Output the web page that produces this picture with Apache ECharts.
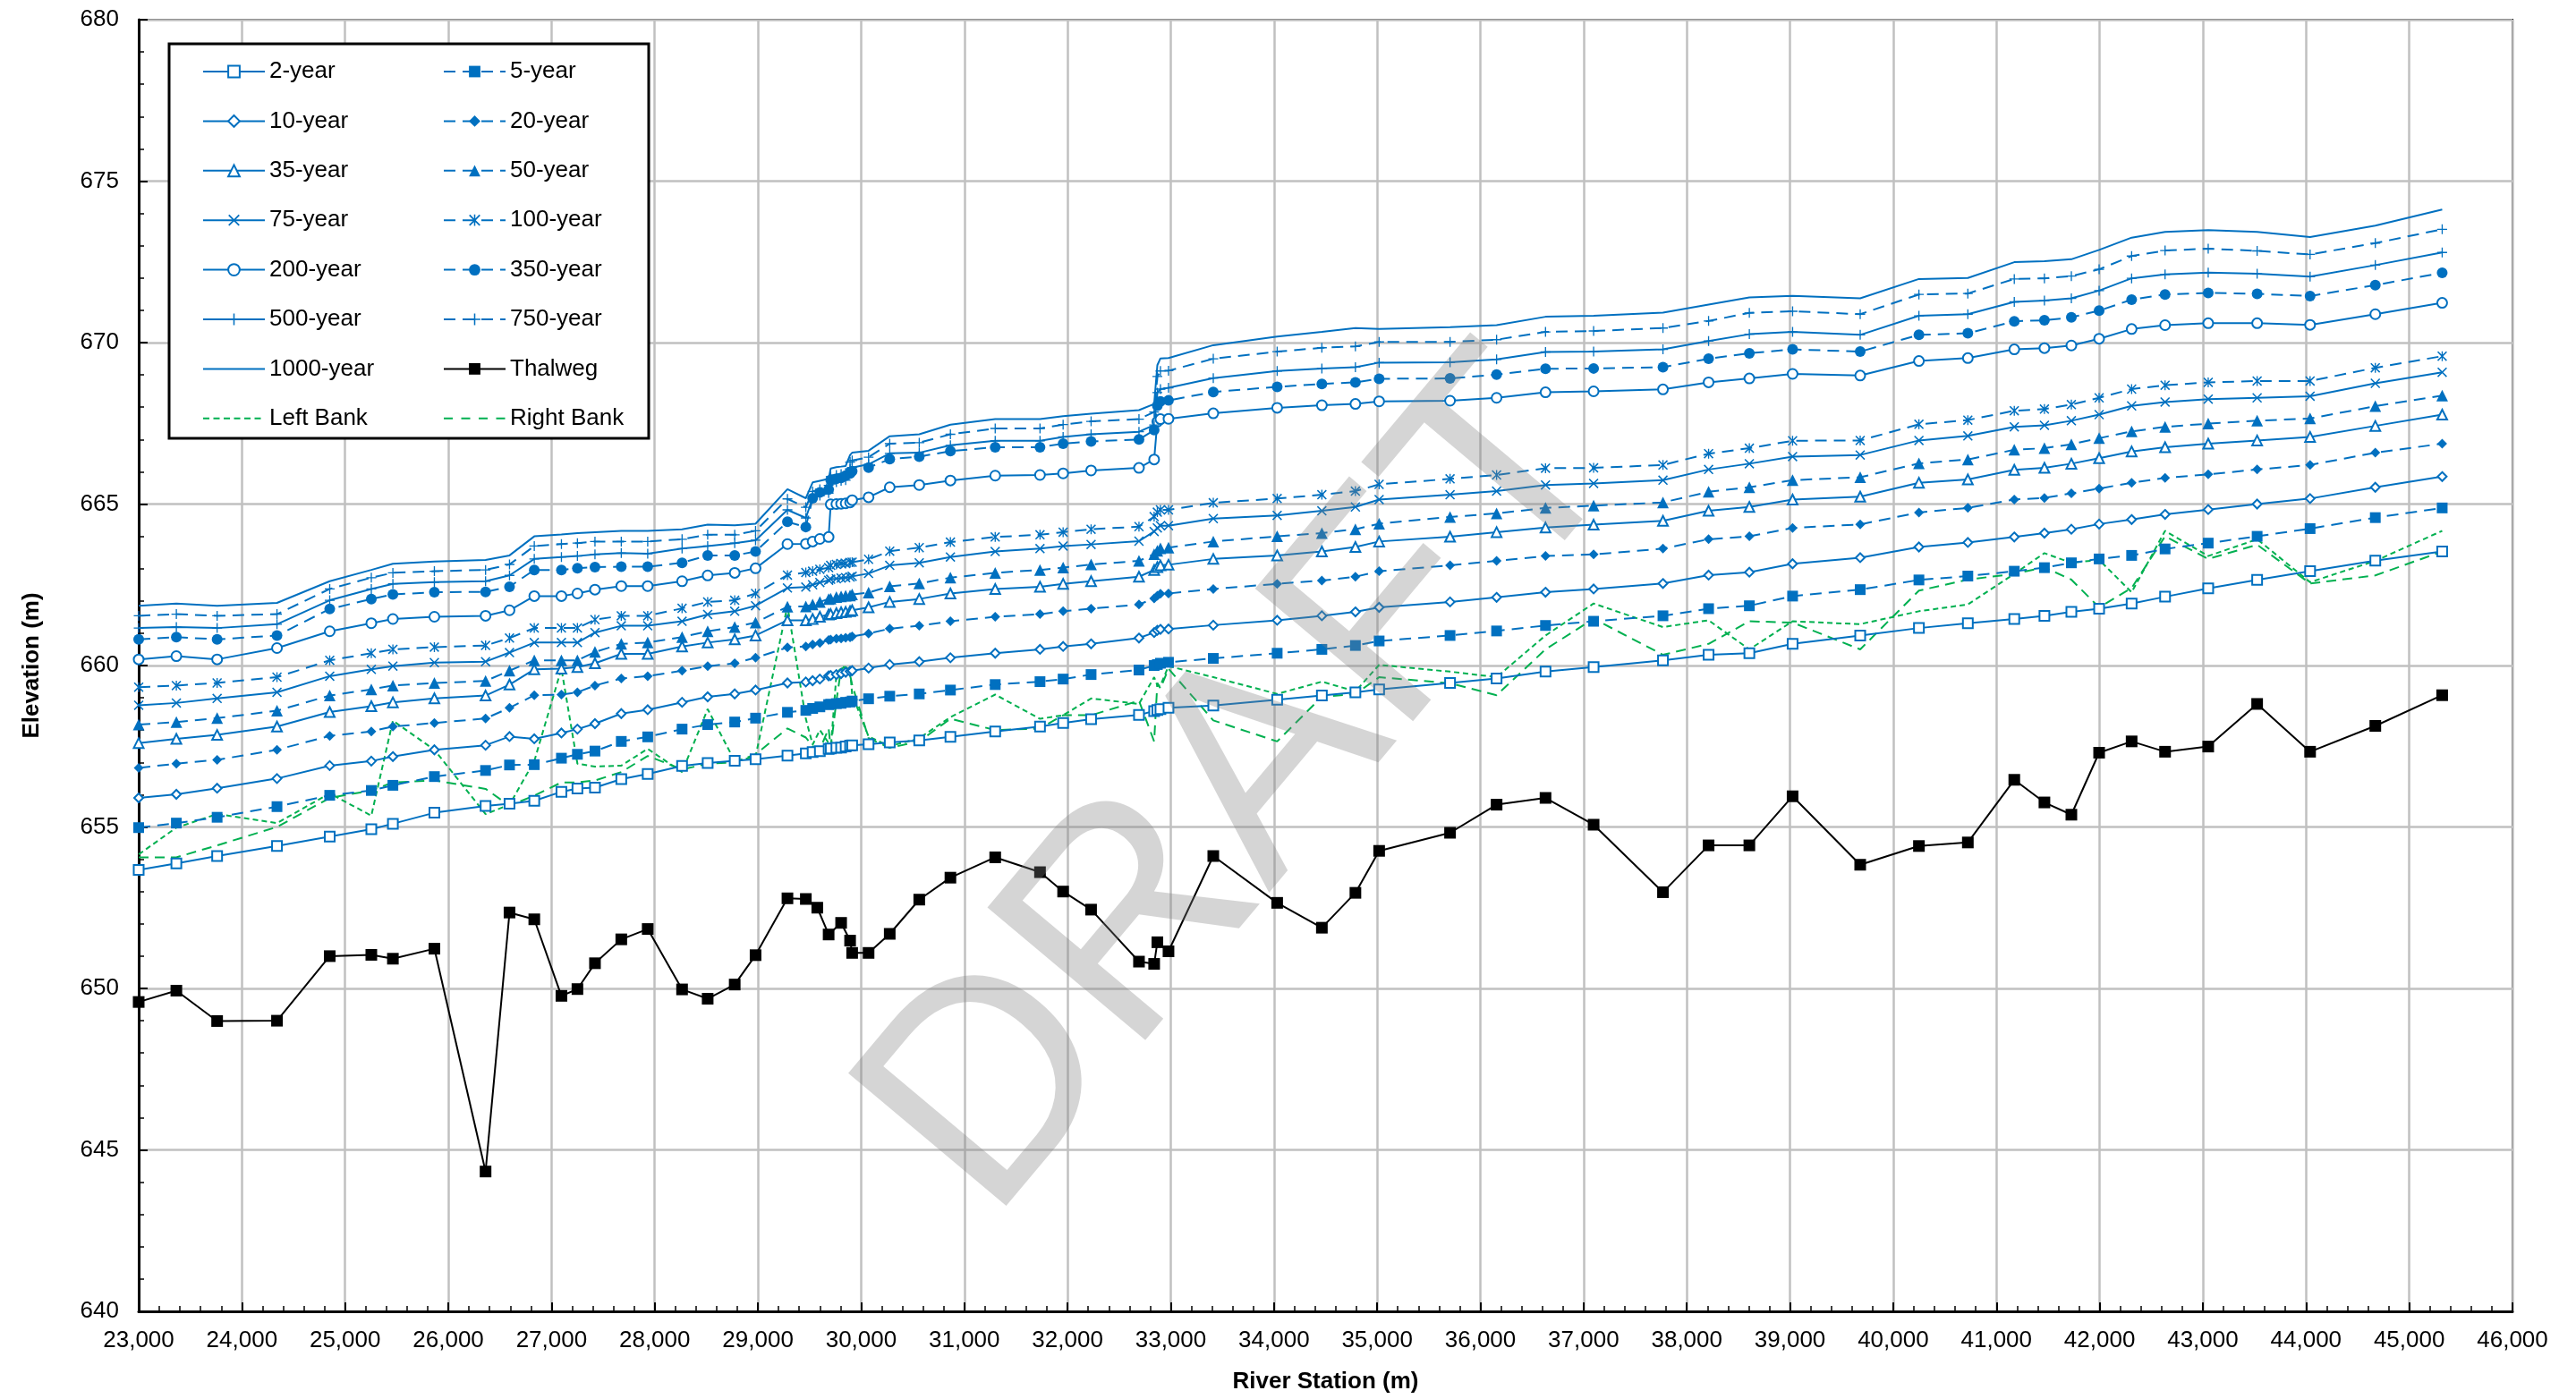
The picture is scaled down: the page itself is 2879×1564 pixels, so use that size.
<!DOCTYPE html>
<html><head><meta charset="utf-8">
<script src="https://cdn.jsdelivr.net/npm/echarts@6/dist/echarts.min.js"></script>
<style>html,body{margin:0;padding:0;background:#fff}#c{width:2879px;height:1564px}</style>
</head><body><div id="c"></div>
<script>
// ---------- DATA ----------
const stations = [23000,23365,23760,24340,24851,25254,25463,25865,26361,26593,26833,27096,27251,27421,27676,27932,28265,28513,28775,28977,29286,29464,29530,29600,29685,29705,29760,29806,29850,29893,29913,30072,30277,30563,30865,31299,31733,31957,32228,32692,32839,32870,32900,32978,33412,34031,34464,34789,35019,35706,36157,36631,37097,37769,38211,38606,39025,39680,40249,40723,41173,41465,41726,41995,42310,42634,43052,43526,44039,44671,45319];

const y2 = [653.67,653.87,654.10,654.41,654.70,654.93,655.10,655.44,655.65,655.72,655.81,656.09,656.19,656.22,656.48,656.64,656.89,656.98,657.05,657.10,657.21,657.28,657.32,657.35,657.42,657.43,657.45,657.46,657.49,657.52,657.53,657.56,657.62,657.68,657.79,657.96,658.11,658.22,658.34,658.47,658.59,658.62,658.65,658.69,658.76,658.94,659.07,659.17,659.26,659.46,659.60,659.81,659.95,660.16,660.33,660.38,660.67,660.93,661.16,661.31,661.44,661.54,661.66,661.76,661.92,662.13,662.39,662.65,662.92,663.25,663.53];
const y5 = [654.98,655.12,655.30,655.63,655.98,656.13,656.29,656.56,656.75,656.92,656.93,657.13,657.25,657.35,657.65,657.79,658.03,658.17,658.25,658.37,658.55,658.61,658.67,658.72,658.79,658.80,658.82,658.83,658.86,658.87,658.90,658.97,659.05,659.12,659.24,659.41,659.50,659.58,659.72,659.86,660.00,660.03,660.07,660.10,660.22,660.38,660.50,660.62,660.76,660.93,661.07,661.24,661.37,661.54,661.76,661.85,662.15,662.35,662.65,662.77,662.92,663.03,663.18,663.30,663.41,663.61,663.79,664.00,664.24,664.58,664.88];
const y10 = [655.90,656.01,656.20,656.50,656.90,657.04,657.18,657.39,657.53,657.80,657.73,657.91,658.03,658.20,658.51,658.63,658.86,659.03,659.12,659.24,659.46,659.49,659.53,659.58,659.68,659.69,659.72,659.75,659.79,659.82,659.84,659.92,660.03,660.12,660.24,660.38,660.50,660.59,660.67,660.85,661.02,661.09,661.12,661.13,661.25,661.40,661.54,661.66,661.80,661.97,662.11,662.27,662.37,662.54,662.80,662.89,663.15,663.34,663.67,663.81,663.98,664.10,664.22,664.38,664.52,664.68,664.83,665.00,665.17,665.52,665.85];
const y20 = [656.83,656.96,657.08,657.39,657.82,657.96,658.11,658.22,658.36,658.69,659.08,659.10,659.17,659.38,659.60,659.67,659.84,659.98,660.07,660.24,660.56,660.59,660.65,660.70,660.79,660.80,660.83,660.84,660.86,660.87,660.90,660.99,661.14,661.23,661.37,661.51,661.59,661.68,661.76,661.89,662.08,662.16,662.22,662.23,662.37,662.53,662.63,662.75,662.92,663.10,663.24,663.39,663.44,663.62,663.91,664.00,664.26,664.37,664.74,664.88,665.14,665.19,665.33,665.48,665.66,665.81,665.92,666.07,666.21,666.59,666.87];
const y35 = [657.60,657.73,657.85,658.11,658.56,658.74,658.86,658.98,659.07,659.41,659.88,659.90,659.95,660.07,660.36,660.36,660.59,660.71,660.81,660.93,661.40,661.40,661.44,661.51,661.58,661.59,661.62,661.65,661.66,661.68,661.71,661.80,661.97,662.06,662.23,662.37,662.44,662.53,662.61,662.75,662.96,663.05,663.10,663.12,663.30,663.41,663.53,663.67,663.84,663.99,664.13,664.27,664.36,664.48,664.79,664.91,665.14,665.23,665.66,665.76,666.06,666.12,666.25,666.42,666.63,666.76,666.87,666.97,667.08,667.42,667.77];
const y50 = [658.17,658.25,658.37,658.60,659.07,659.26,659.38,659.46,659.52,659.84,660.16,660.16,660.16,660.42,660.67,660.71,660.88,661.06,661.19,661.33,661.82,661.83,661.89,661.97,662.06,662.07,662.12,662.14,662.16,662.17,662.20,662.26,662.45,662.54,662.72,662.87,662.96,663.03,663.13,663.24,663.45,663.55,663.63,663.65,663.84,664.00,664.10,664.22,664.39,664.60,664.71,664.88,664.95,665.05,665.38,665.52,665.74,665.83,666.26,666.38,666.68,666.73,666.85,667.04,667.25,667.39,667.49,667.58,667.65,668.03,668.36];
const y75 = [658.77,658.84,658.98,659.17,659.67,659.88,659.98,660.09,660.12,660.40,660.71,660.71,660.71,661.02,661.23,661.23,661.37,661.58,661.68,661.85,662.40,662.43,662.50,662.57,662.64,662.67,662.69,662.71,662.72,662.74,662.76,662.85,663.10,663.18,663.36,663.53,663.62,663.70,663.75,663.85,664.15,664.26,664.33,664.33,664.55,664.65,664.79,664.91,665.14,665.29,665.40,665.59,665.64,665.74,666.07,666.25,666.47,666.52,666.97,667.11,667.39,667.44,667.58,667.77,668.04,668.16,668.25,668.29,668.34,668.74,669.08];
const y100 = [659.33,659.38,659.46,659.64,660.16,660.38,660.50,660.57,660.62,660.85,661.16,661.16,661.16,661.42,661.54,661.54,661.77,661.97,662.02,662.23,662.80,662.88,662.92,662.98,663.03,663.10,663.13,663.16,663.16,663.19,663.20,663.29,663.54,663.65,663.82,663.98,664.05,664.13,664.22,664.30,664.61,664.75,664.82,664.82,665.04,665.17,665.29,665.40,665.61,665.78,665.90,666.11,666.12,666.21,666.56,666.73,666.96,666.97,667.47,667.60,667.89,667.94,668.08,668.29,668.56,668.68,668.77,668.81,668.81,669.22,669.58];
const y200 = [660.19,660.29,660.19,660.54,661.06,661.31,661.44,661.51,661.54,661.71,662.15,662.15,662.23,662.35,662.46,662.46,662.61,662.79,662.87,663.01,663.76,663.77,663.84,663.92,663.98,664.99,665.00,665.01,665.02,665.05,665.12,665.21,665.52,665.59,665.73,665.88,665.90,665.95,666.04,666.12,666.38,667.55,667.63,667.64,667.81,667.98,668.06,668.10,668.18,668.20,668.29,668.46,668.49,668.55,668.77,668.89,669.03,668.98,669.43,669.52,669.79,669.83,669.91,670.12,670.42,670.54,670.60,670.60,670.55,670.88,671.23];
const y350 = [660.81,660.88,660.81,660.93,661.75,662.06,662.20,662.27,662.28,662.44,662.96,662.96,663.01,663.05,663.06,663.06,663.18,663.41,663.41,663.53,664.45,664.29,665.18,665.36,665.45,665.75,665.78,665.81,665.88,665.95,666.02,666.13,666.39,666.47,666.64,666.76,666.76,666.87,666.94,667.00,667.29,668.05,668.18,668.21,668.47,668.63,668.72,668.77,668.88,668.89,669.01,669.19,669.20,669.24,669.50,669.67,669.79,669.72,670.24,670.29,670.66,670.69,670.78,670.99,671.33,671.49,671.54,671.51,671.44,671.78,672.16];
const y500 = [661.16,661.19,661.16,661.28,662.02,662.37,662.53,662.58,662.61,662.79,663.30,663.36,663.39,663.44,663.48,663.46,663.62,663.70,663.79,663.88,664.82,664.57,665.18,665.26,665.34,665.62,665.68,665.72,665.74,666.09,666.13,666.23,666.57,666.59,666.82,666.96,666.96,667.08,667.16,667.24,667.45,668.45,668.56,668.60,668.90,669.12,669.20,669.24,669.38,669.39,669.48,669.71,669.72,669.79,670.05,670.26,670.33,670.24,670.83,670.88,671.26,671.30,671.37,671.61,671.99,672.11,672.17,672.13,672.04,672.40,672.79];
const y750 = [661.54,661.59,661.54,661.59,662.37,662.72,662.87,662.92,662.96,663.13,663.70,663.76,663.79,663.84,663.84,663.84,663.91,664.05,664.05,664.17,665.16,664.90,665.39,665.46,665.58,665.85,665.90,665.93,665.95,666.30,666.35,666.45,666.87,666.90,667.16,667.34,667.34,667.46,667.56,667.63,667.85,668.95,669.12,669.13,669.50,669.72,669.84,669.88,670.02,670.02,670.09,670.33,670.36,670.45,670.67,670.92,670.97,670.88,671.49,671.52,671.97,671.99,672.06,672.27,672.68,672.85,672.91,672.84,672.73,673.08,673.51];
const y1000 = [661.85,661.92,661.85,661.94,662.61,662.96,663.15,663.22,663.27,663.41,664.00,664.06,664.10,664.13,664.17,664.17,664.22,664.36,664.34,664.39,665.46,665.18,665.67,665.72,665.78,666.10,666.14,666.16,666.18,666.52,666.59,666.65,667.10,667.16,667.46,667.63,667.63,667.72,667.80,667.91,668.10,669.30,669.51,669.52,669.92,670.19,670.33,670.45,670.42,670.48,670.54,670.80,670.83,670.93,671.18,671.40,671.45,671.37,671.97,672.00,672.49,672.52,672.58,672.87,673.25,673.43,673.48,673.43,673.27,673.62,674.12];
const leftBank = [654.15,654.98,655.40,655.12,656.04,655.35,658.29,657.39,655.40,655.69,657.04,659.90,656.96,656.87,656.90,657.42,656.70,658.65,657.04,657.18,661.85,658.35,657.55,658.00,657.60,657.40,659.70,659.95,659.95,659.85,659.10,657.80,657.50,657.75,658.40,659.10,658.35,658.46,658.98,658.81,659.64,659.38,659.38,659.98,659.64,659.12,659.50,659.20,660.02,659.81,659.64,660.93,661.92,661.19,661.40,660.50,661.37,661.28,661.68,661.89,662.84,663.48,663.18,663.27,662.27,664.17,663.39,663.91,662.58,663.24,664.17];
const rightBank = [654.06,654.06,654.43,655.00,655.90,656.13,656.38,656.44,656.18,655.66,655.97,656.38,656.38,656.44,656.70,657.20,656.78,656.96,657.00,657.25,658.05,657.77,657.50,657.40,658.05,657.45,658.90,659.90,659.95,659.70,659.40,657.75,657.45,657.65,658.35,658.00,658.05,658.46,658.46,658.91,657.65,659.46,659.29,659.90,658.30,657.65,659.03,659.12,659.64,659.45,659.08,660.50,661.45,660.33,660.67,661.37,661.33,660.50,662.32,662.66,662.84,663.04,662.66,661.80,662.40,664.00,663.30,663.74,662.54,662.79,663.53];

const thalwegStations = [23000,23365,23760,24340,24851,25254,25463,25865,26361,26593,26833,27096,27251,27421,27676,27932,28265,28513,28775,28977,29286,29464,29575,29685,29806,29893,29913,30072,30277,30563,30865,31299,31733,31957,32228,32692,32839,32870,32978,33412,34031,34464,34789,35019,35706,36157,36631,37097,37769,38211,38606,39025,39680,40249,40723,41173,41465,41726,41995,42310,42634,43052,43526,44039,44671,45319];
const thalweg = [649.58,649.93,648.99,649.0,651.0,651.04,650.92,651.23,644.33,652.35,652.14,649.77,649.98,650.78,651.52,651.84,649.97,649.68,650.12,651.03,652.79,652.77,652.5,651.67,652.03,651.48,651.1,651.1,651.69,652.75,653.43,654.06,653.6,653.0,652.44,650.83,650.76,651.43,651.15,654.1,652.65,651.88,652.96,654.26,654.82,655.69,655.9,655.07,652.98,654.43,654.43,655.95,653.83,654.41,654.52,656.46,655.76,655.38,657.3,657.65,657.33,657.49,658.81,657.33,658.13,659.08];

const xTickRange = [23000, 46000, 1000];
const yTickRange = [640, 680, 5];

// ---------- STYLE ----------
const BLUE = '#0070C0', GREEN = '#00B050';
const FONT = 'Liberation Sans, Arial, sans-serif';
const X_PATH = 'path://M0,1L1,0L5,4L9,0L10,1L6,5L10,9L9,10L5,6L1,10L0,9L4,5Z';
const AST_PATH = 'path://M0,1L1,0L5,4L9,0L10,1L6,5L10,9L9,10L5,6L1,10L0,9L4,5ZM4.4,0L5.6,0L5.6,10L4.4,10Z';
const PLUS_PATH = 'path://M4.4,0L5.6,0L5.6,4.4L10,4.4L10,5.6L5.6,5.6L5.6,10L4.4,10L4.4,5.6L0,5.6L0,4.4L4.4,4.4Z';
const DASH = [13, 8];

// legend icons drawn in a 69x16 box (tiny corner marks fix the bounding box)
const BOX = 'M0,0L0.01,0L0.01,0.01ZM68.99,15.99L69,15.99L69,16Z';
function dashIcon(segs) {
  return 'path://' + BOX + segs.map(s => `M${s[0]},7L${s[1]},7L${s[1]},9L${s[0]},9Z`).join('');
}
const ICON_SOLID = dashIcon([[0, 69]]);
const ICON_LEFT = dashIcon([[0,7],[11.5,18.5],[23,30],[34.5,41.5],[46,53],[57.5,64.5]]);
const ICON_RIGHT = dashIcon([[0,10],[19.5,29.5],[39,49],[58.5,68.5]]);

function pairs(xs, ys) { return xs.map((x, i) => [x, ys[i]]); }
function prof(name, ys, symbol, size, dashed) {
  return {
    name, type: 'line', data: pairs(stations, ys),
    symbol, symbolSize: size, showAllSymbol: true,
    lineStyle: { color: BLUE, width: 2, type: dashed ? DASH : 'solid' },
    itemStyle: { color: BLUE, borderColor: BLUE, borderWidth: symbol.indexOf('empty') === 0 ? 1.6 : 0 },
    z: 3
  };
}

const series = [
  prof('2-year', y2, 'emptyRect', 11, false),
  prof('5-year', y5, 'rect', 12, true),
  prof('10-year', y10, 'emptyDiamond', 10, false),
  prof('20-year', y20, 'diamond', 11, true),
  prof('35-year', y35, 'emptyTriangle', 11, false),
  prof('50-year', y50, 'triangle', 13, true),
  prof('75-year', y75, X_PATH, 11, false),
  prof('100-year', y100, AST_PATH, 11, true),
  prof('200-year', y200, 'emptyCircle', 11, false),
  prof('350-year', y350, 'circle', 12, true),
  prof('500-year', y500, PLUS_PATH, 11, false),
  prof('750-year', y750, PLUS_PATH, 11, true),
  prof('1000-year', y1000, 'none', 0, false),
  { name: 'Thalweg', type: 'line', data: pairs(thalwegStations, thalweg), symbol: 'rect', symbolSize: 13, showAllSymbol: true,
    lineStyle: { color: '#000', width: 2 }, itemStyle: { color: '#000' }, z: 4 },
  { name: 'Left Bank', type: 'line', data: pairs(stations, leftBank), symbol: 'none',
    lineStyle: { color: GREEN, width: 2, type: [6, 4] }, itemStyle: { color: GREEN }, z: 2 },
  { name: 'Right Bank', type: 'line', data: pairs(stations, rightBank), symbol: 'none',
    lineStyle: { color: GREEN, width: 2, type: [11, 7] }, itemStyle: { color: GREEN }, z: 2 }
];

const legendCommon = {
  orient: 'vertical', top: 62, itemWidth: 69, itemHeight: 16, itemGap: 29.4,
  selectedMode: false, textStyle: { fontSize: 26, fontFamily: FONT, color: '#000' }, z: 10
};

const chart = echarts.init(document.getElementById('c'), null, { renderer: 'canvas' });
chart.setOption({
  animation: false,
  backgroundColor: '#fff',
  grid: { left: 155, right: 71, top: 22, bottom: 98, show: true, borderColor: '#000', borderWidth: 2, backgroundColor: 'transparent' },
  xAxis: {
    type: 'value', min: xTickRange[0], max: xTickRange[1], interval: xTickRange[2],
    name: 'River Station (m)', nameLocation: 'middle', nameGap: 66,
    nameTextStyle: { fontSize: 26, fontWeight: 'bold', fontFamily: FONT, color: '#000' },
    axisLine: { show: true, onZero: false, lineStyle: { color: '#000', width: 3 } },
    axisTick: { show: true, inside: true, length: 10, lineStyle: { color: '#000', width: 2 } },
    minorTick: { show: true, splitNumber: 5, length: 6, lineStyle: { color: '#000', width: 1.5 } },
    axisLabel: { fontSize: 26, fontFamily: FONT, color: '#000', margin: 20, formatter: v => v.toLocaleString('en-US') },
    splitLine: { show: true, lineStyle: { color: '#C0C0C0', width: 2.5 } }
  },
  yAxis: {
    type: 'value', min: yTickRange[0], max: yTickRange[1], interval: yTickRange[2],
    name: 'Elevation (m)', nameLocation: 'middle', nameGap: 106,
    nameTextStyle: { fontSize: 26, fontWeight: 'bold', fontFamily: FONT, color: '#000' },
    axisLine: { show: true, onZero: false, lineStyle: { color: '#000', width: 3 } },
    axisTick: { show: true, inside: true, length: 10, lineStyle: { color: '#000', width: 2 } },
    minorTick: { show: true, splitNumber: 5, length: 6, lineStyle: { color: '#000', width: 1.5 } },
    axisLabel: { fontSize: 26, fontFamily: FONT, color: '#000', margin: 22 },
    splitLine: { show: true, lineStyle: { color: '#C0C0C0', width: 2.5 } }
  },
  legend: [
    Object.assign({ left: 221, data: ['2-year','10-year','35-year','75-year','200-year','500-year',
      { name: '1000-year', icon: ICON_SOLID }, { name: 'Left Bank', icon: ICON_LEFT }] }, legendCommon),
    Object.assign({ left: 490, data: ['5-year','20-year','50-year','100-year','350-year','750-year','Thalweg',
      { name: 'Right Bank', icon: ICON_RIGHT }] }, legendCommon)
  ],
  graphic: [
    { type: 'rect', z: 5, shape: { x: 189, y: 49, width: 536, height: 441 }, style: { fill: '#fff', stroke: '#000', lineWidth: 3 } },
    { type: 'text', z: 100, x: 1395, y: 882, rotation: 50 * Math.PI / 180,
      style: { text: 'DRAFT', fontSize: 335, fontFamily: FONT, fill: 'rgba(128,128,128,0.33)', align: 'center', verticalAlign: 'middle' } }
  ],
  series
});
</script></body></html>
